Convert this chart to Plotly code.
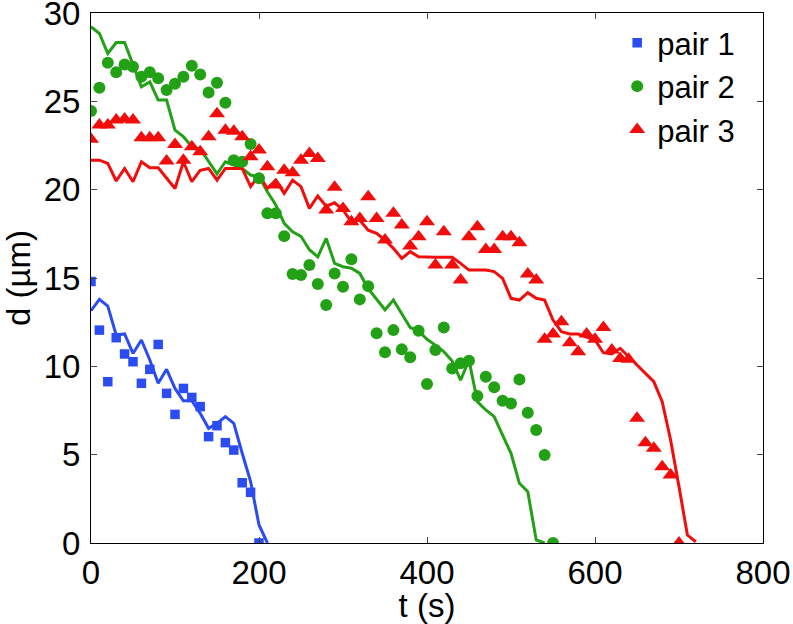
import plotly.graph_objects as go

# ---- data ----
t1 = [0, 10, 20, 30, 40, 50, 60, 70, 80, 90, 100, 110, 120, 130, 140, 150, 160, 170, 180, 190, 200]
d1 = [14.8, 12.05, 9.13, 11.62, 10.7, 10.26, 9.04, 9.83, 11.24, 8.47, 7.28, 8.75, 8.24, 7.72,
      6.02, 6.64, 5.68, 5.26, 3.41, 2.87, 0.0]
t1_fit = [0, 10, 20, 30, 40, 50, 60, 70, 80, 90, 100, 110, 120, 130, 140, 150, 160, 170, 180, 190, 200, 210]
d1_fit = [13.15, 13.79, 13.41, 11.77, 11.83, 10.73, 11.49, 10.36, 9.04, 9.83, 8.75, 8.05, 8.05, 7.34,
          6.49, 6.77, 7.15, 6.77, 5.08, 3.47, 1.02, 0.0]

t2 = list(range(0, 560, 10))
d2 = [24.45, 25.77, 27.18, 26.64, 27.09, 26.96, 26.39, 26.64, 26.3, 25.64,
      26.0, 26.39, 27.01, 26.52, 25.5, 26.05, 24.92, 21.67, 21.58, 22.58,
      20.64, 18.66, 18.66, 17.37, 15.22, 15.17, 15.73, 14.66, 13.47, 15.26,
      14.5, 16.06, 13.79, 14.54, 11.87, 10.8, 12.05, 10.96, 10.51, 12.02,
      9.0, 10.92, 12.2, 9.88, 10.17, 10.32, 8.32, 9.41, 8.81, 8.05,
      7.9, 9.26, 7.37, 6.39, 4.98, 0.0]
t2_fit = list(range(0, 550, 10))
d2_fit = [29.22, 28.84, 27.71, 28.33, 28.33, 27.05, 25.82, 26.1, 25.07, 25.07,
          23.37, 23.0, 22.43, 22.3, 21.58, 20.9, 21.58, 21.4, 21.2, 20.83,
          20.73, 19.88, 19.13, 18.09, 17.62, 17.36, 16.6, 16.2, 17.24, 15.83,
          15.64, 15.55, 15.26, 14.4, 13.8, 13.2, 13.75, 13.0, 12.2, 12.0,
          11.53, 11.2, 10.83, 10.3, 9.22, 10.36, 8.0, 7.53, 7.15, 6.11,
          5.08, 3.38, 2.9, 0.17, 0.0]

t3 = list(range(0, 710, 10))
d3 = [22.86, 23.66, 23.66, 23.94, 24.0, 23.94, 22.94, 22.94, 22.94, 21.62,
      22.56, 21.67, 22.43, 22.15, 23.0, 24.3, 23.37, 23.3, 23.0, 21.86,
      22.24, 21.3, 20.26, 21.1, 20.96, 21.67, 22.05, 21.77, 18.85, 20.13,
      18.94, 18.18, 18.37, 19.6, 18.37, 17.15, 18.66, 18.0, 16.81, 17.34,
      18.18, 15.73, 17.62, 15.73, 14.88, 17.34, 17.9, 16.62, 16.62, 17.34,
      17.34, 17.0, 15.22, 14.88, 11.53, 11.83, 12.52, 11.34, 10.83, 11.83,
      11.53, 12.2, 10.92, 10.45, 10.4, 7.06, 5.68, 5.36, 4.32, 3.85, 0.0]
t3_fit = list(range(0, 730, 10))
d3_fit = [21.67, 21.67, 21.49, 20.49, 21.2, 20.45, 21.58, 21.24, 21.24, 20.64,
          20.07, 21.58, 20.45, 21.1, 21.2, 20.54, 21.2, 21.2, 21.2, 20.17,
          20.83, 20.07, 20.54, 19.79, 20.54, 20.17, 18.94, 19.64, 19.07, 19.26,
          18.85, 18.18, 18.27, 17.71, 17.53, 17.15, 16.68, 16.11, 16.49, 16.2,
          16.17, 16.17, 16.17, 16.17, 15.83, 15.45, 15.45, 15.45, 15.36, 14.98,
          13.85, 13.75, 14.17, 13.85, 13.75, 12.62, 11.96, 11.83, 11.83, 11.64,
          11.49, 10.77, 10.7, 11.02, 10.54, 10.07, 9.6, 9.13, 8.0, 5.83,
          3.19, 0.45, 0.07]

x_ticks = [0, 200, 400, 600, 800]
y_ticks = [0, 5, 10, 15, 20, 25, 30]
names = ["pair 1", "pair 2", "pair 3"]

BLUE = "#2b4cf2"
GREEN = "#23a116"
RED = "#f20d0d"
FONT = "Liberation Sans, Arial, Helvetica, sans-serif"
TICK_SIZE = 33

fig = go.Figure()
# fit lines
for tx, dx, c in [(t1_fit, d1_fit, BLUE), (t2_fit, d2_fit, GREEN), (t3_fit, d3_fit, RED)]:
    fig.add_trace(go.Scatter(x=tx, y=dx, mode="lines", line=dict(color=c, width=3),
                             showlegend=False, hoverinfo="skip"))
# data markers
fig.add_trace(go.Scatter(x=t1, y=d1, mode="markers", name=names[0], legendgroup="g1",
                         marker=dict(symbol="square", size=9.5, color=BLUE)))
fig.add_trace(go.Scatter(x=t2, y=d2, mode="markers", name=names[1], legendgroup="g2",
                         marker=dict(symbol="circle", size=12, color=GREEN)))
fig.add_trace(go.Scatter(x=t3, y=d3, mode="markers", name=names[2], legendgroup="g3",
                         marker=dict(symbol="triangle-up", size=14, color=RED)))

axis_common = dict(showline=True, linecolor="black", linewidth=1, mirror="ticks",
                   ticks="inside", ticklen=6, tickcolor="#444", showgrid=False,
                   zeroline=False, automargin=False, ticklabeloverflow="allow",
                   tickfont=dict(size=TICK_SIZE, color="black", family=FONT))
fig.update_xaxes(range=[0, 800], tickvals=x_ticks, **axis_common,
                 title=dict(text="t (s)", font=dict(size=TICK_SIZE, color="black", family=FONT), standoff=0))
fig.update_yaxes(range=[0, 30], tickvals=y_ticks, ticklabelstandoff=3, **axis_common,
                 title=dict(text="d (µm)", font=dict(size=TICK_SIZE, color="black", family=FONT), standoff=14))

fig.update_layout(
    template="none",
    width=793, height=624,
    margin=dict(l=91, r=30, t=13, b=81),
    plot_bgcolor="white", paper_bgcolor="white",
    font=dict(family=FONT, color="black"),
    legend=dict(x=0.783, y=0.994, xanchor="left", yanchor="top",
                font=dict(size=31, color="black", family=FONT),
                bgcolor="rgba(255,255,255,0)", tracegroupgap=0, itemsizing="trace"),
)

fig.write_html("out.html", config={"displayModeBar": False},
               post_script="document.body.style.margin='0';")
